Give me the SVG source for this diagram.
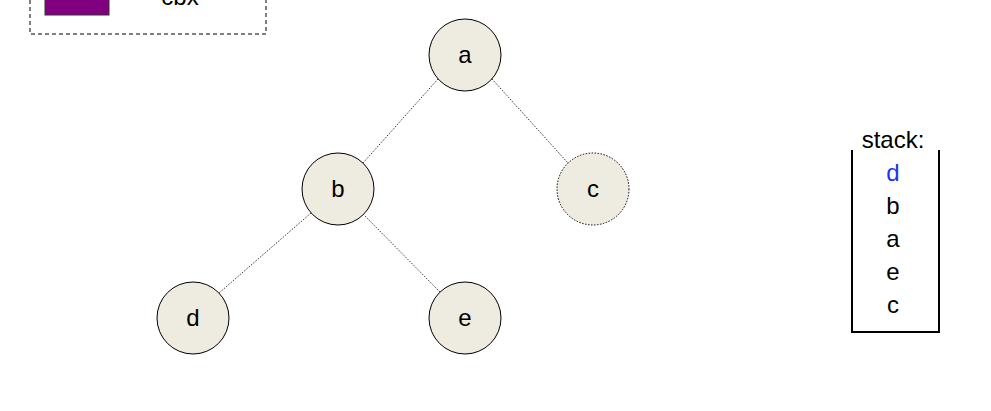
<svg xmlns="http://www.w3.org/2000/svg" width="991" height="411" viewBox="0 0 991 411">
<style>
text{font-family:"Liberation Sans",Arial,sans-serif;font-size:24px;text-anchor:middle;fill:#000}
.n{fill:#eeebe1;stroke:#000;stroke-width:1}
.e{stroke:#000;stroke-width:0.8;stroke-dasharray:1.5 1.5;fill:none}
</style>
<rect width="991" height="411" fill="#fff"/>
<g id="legend">
<rect x="30" y="-10" width="236" height="44" fill="none" stroke="#000" stroke-dasharray="4 3"/>
<rect x="45" y="-10" width="64" height="25" fill="#800080" stroke="#333"/>
<text x="180" y="5">cbx</text>
</g>
<g id="edges">
<line class="e" x1="438" y1="79" x2="363" y2="163"/>
<line class="e" x1="492" y1="79" x2="568" y2="163"/>
<line class="e" x1="311" y1="213" x2="219" y2="293"/>
<line class="e" x1="363" y1="214" x2="440" y2="292"/>
</g>
<g id="node-a"><circle class="n" cx="465" cy="55" r="36"/><text x="465" y="63">a</text></g>
<g id="node-b"><circle class="n" cx="338" cy="189" r="36"/><text x="338" y="197">b</text></g>
<g id="node-c"><circle class="n" cx="593" cy="189" r="36" stroke-dasharray="1.5 1.5"/><text x="593" y="197">c</text></g>
<g id="node-d"><circle class="n" cx="193" cy="318" r="36"/><text x="193" y="326">d</text></g>
<g id="node-e"><circle class="n" cx="465" cy="318" r="36"/><text x="465" y="326">e</text></g>
<g id="stack">
<polyline points="852,150 852,332 939,332 939,150" fill="none" stroke="#000" stroke-width="2"/>
<text x="893" y="148">stack:</text>
<text x="893" y="181" style="fill:#2233ee">d</text>
<text x="893" y="214">b</text>
<text x="893" y="247">a</text>
<text x="893" y="280">e</text>
<text x="893" y="313">c</text>
</g>
</svg>
